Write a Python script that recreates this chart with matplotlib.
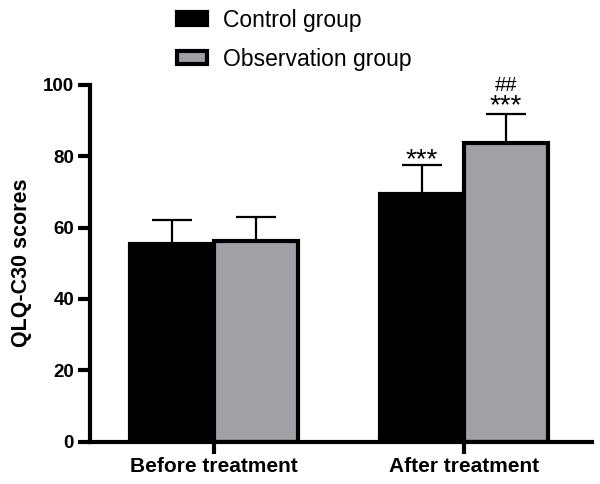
import numpy as np
import matplotlib
matplotlib.use("Agg")
import matplotlib.pyplot as plt

plt.rcParams['font.family'] = ['Liberation Sans', 'DejaVu Sans']

# data
groups = ["Before treatment", "After treatment"]
control_mean = [55.5, 69.5]
control_sd = [6.7, 8.0]
observ_mean = [56.2, 83.7]
observ_sd = [6.9, 8.2]
control_stars = ["", "***"]
observ_stars = ["", "***"]
observ_hash = ["", "##"]

fig = plt.figure(figsize=(6.0, 4.84), dpi=100)
ax = fig.add_axes([0.15, 0.0878, 0.8367, 0.7366])

x = np.arange(len(groups))
w = 0.336
gray = '#a1a1a5'
lw = 3.0

ax.bar(x - w / 2, control_mean, w, color='black', edgecolor='black', linewidth=lw,
       label='Control group', zorder=2)
ax.bar(x + w / 2, observ_mean, w, color=gray, edgecolor='black', linewidth=lw,
       label='Observation group', zorder=2)

ekw = dict(fmt='none', ecolor='black', elinewidth=1.6, capsize=14.5, capthick=1.6, zorder=3)
ax.errorbar(x - w / 2, control_mean, yerr=[np.zeros(2), control_sd], **ekw)
ax.errorbar(x + w / 2, observ_mean, yerr=[np.zeros(2), observ_sd], **ekw)

# significance marks
for i in range(len(groups)):
    if control_stars[i]:
        ax.annotate(control_stars[i], (x[i] - w / 2, control_mean[i] + control_sd[i]),
                    xytext=(0, -1.2), textcoords='offset points', ha='center', va='baseline',
                    fontsize=20)
    if observ_stars[i]:
        ax.annotate(observ_stars[i], (x[i] + w / 2, observ_mean[i] + observ_sd[i]),
                    xytext=(0, 0.3), textcoords='offset points', ha='center', va='baseline',
                    fontsize=20)
    if observ_hash[i]:
        ax.annotate(observ_hash[i], (x[i] + w / 2, observ_mean[i] + observ_sd[i]),
                    xytext=(0, 16.5), textcoords='offset points', ha='center', va='baseline',
                    fontsize=14.5)

ax.set_xlim(-0.496, 1.512)
ax.set_ylim(0, 100)
ax.set_yticks([0, 20, 40, 60, 80, 100])
ax.set_xticks(x)
ax.set_xticklabels(groups, fontsize=15, fontweight='bold')
for lab in ax.get_yticklabels():
    lab.set_fontweight('bold')
    lab.set_fontsize(13.5)
ax.set_ylabel('QLQ-C30 scores', fontsize=15.5, fontweight='bold', labelpad=8)

ax.spines['top'].set_visible(False)
ax.spines['right'].set_visible(False)
ax.spines['left'].set_linewidth(3)
ax.spines['bottom'].set_linewidth(3)
ax.tick_params(axis='both', width=3, length=8.5, pad=3)

fig.legend(loc='upper left', bbox_to_anchor=(0.295, 0.982), frameon=False, fontsize=16.5,
           handlelength=1.3, handleheight=0.5, handletextpad=0.72, labelspacing=0.69,
           borderpad=0, borderaxespad=0)

fig.savefig('out.png', dpi=100)
